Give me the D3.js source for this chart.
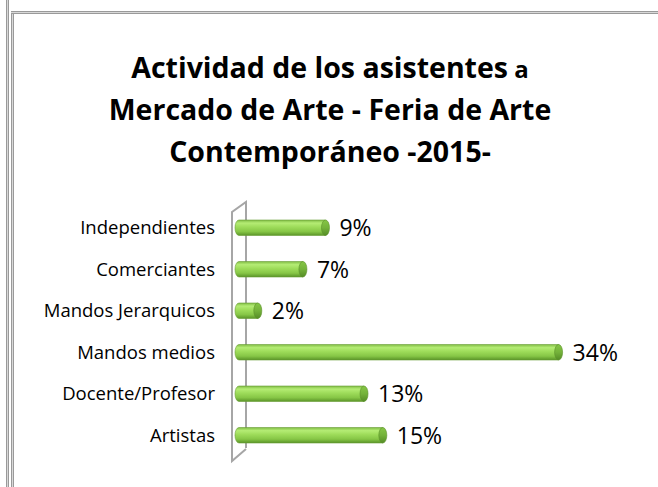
<!DOCTYPE html>
<html><head><meta charset="utf-8">
<script src="https://cdn.jsdelivr.net/npm/d3@7"></script>
<style>html,body{margin:0;padding:0;background:#fff;}</style>
</head><body>
<svg id="chart" width="658" height="487"></svg>
<script>
const categories = ["Independientes","Comerciantes","Mandos Jerarquicos","Mandos medios","Docente/Profesor","Artistas"];
const values = [9.2, 6.8, 2.0, 34.0, 13.3, 15.3];
const valueLabels = ["9%","7%","2%","34%","13%","15%"];
const titleLines = [["Actividad de los asistentes", " a"], ["Mercado de Arte - Feria de Arte"], ["Contemporáneo -2015-"]];

const svg = d3.select("#chart");
const W = 658, H = 487;
svg.append("rect").attr("width", W).attr("height", H).attr("fill", "#fff");

// frame lines (double-line look)
function dbl(x1,y1,x2,y2){
  svg.append("line").attr("x1",x1).attr("y1",y1).attr("x2",x2).attr("y2",y2).attr("stroke","#9a9a9a").attr("stroke-width",3);
  svg.append("line").attr("x1",x1).attr("y1",y1).attr("x2",x2).attr("y2",y2).attr("stroke","#d8d8d8").attr("stroke-width",1);
}
dbl(7.5,0,7.5,H);
dbl(12.5,11,12.5,H);
dbl(11,12.5,W,12.5);

// title
const font = "'Open Sans', 'Liberation Sans', sans-serif";
const title = svg.append("text").attr("text-anchor","middle").attr("font-family",font).attr("font-weight","bold").attr("fill","#000");
const baselines = [78, 120, 162];
titleLines.forEach((parts,i)=>{
  const t = title.append("tspan").attr("x", 330).attr("y", baselines[i]);
  parts.forEach((p,j)=>{
    t.append("tspan").attr("font-size", j===0 ? 28.5 : 24).text(p);
  });
});

// scales
const x = d3.scaleLinear().domain([0, 40]).range([239, 615]);
const y = d3.scaleBand().domain(categories).range([207, 456]).padding(0);
const barH = 15.5, rx = 4;

// wall
const wall = svg.append("g").attr("stroke","#a6a6a6").attr("stroke-width",2).attr("fill","none");
wall.append("path").attr("d", `M246,448 L246,202 L232,212 L232,461 L246,449`);

// gradient
const defs = svg.append("defs");
const g = defs.append("linearGradient").attr("id","cyl").attr("x1",0).attr("y1",0).attr("x2",0).attr("y2",1);
[[0,"#80bc44"],[0.2,"#b4ec74"],[0.45,"#9edc5a"],[0.75,"#86c646"],[1,"#5a9428"]].forEach(s=>g.append("stop").attr("offset",s[0]).attr("stop-color",s[1]));
const gc = defs.append("linearGradient").attr("id","cap").attr("x1",0).attr("y1",0).attr("x2",0).attr("y2",1);
[[0,"#86c646"],[0.5,"#74b23a"],[1,"#558c26"]].forEach(s=>gc.append("stop").attr("offset",s[0]).attr("stop-color",s[1]));

const bars = svg.append("g").selectAll("g").data(categories).join("g");
bars.each(function(c,i){
  const gg = d3.select(this);
  const cy = y(c) + y.bandwidth()/2;
  const x0 = x(0), x1 = x(values[i]);
  gg.append("path")
    .attr("d", `M${x0},${cy-barH/2} L${x1},${cy-barH/2} L${x1},${cy+barH/2} L${x0},${cy+barH/2} A${rx},${barH/2} 0 0 1 ${x0},${cy-barH/2} Z`)
    .attr("fill","url(#cyl)").attr("stroke","#6a9e36").attr("stroke-width",0.6);
  gg.append("ellipse").attr("cx",x1).attr("cy",cy).attr("rx",rx).attr("ry",barH/2)
    .attr("fill","url(#cap)").attr("stroke","#5a902a").attr("stroke-width",0.6);
  gg.append("text").attr("x", x1 + rx + 10).attr("y", cy).attr("dy","0.36em")
    .attr("font-family",font).attr("font-size",23).attr("fill","#000").text(valueLabels[i]);
});

// category labels
svg.append("g").selectAll("text").data(categories).join("text")
  .attr("x", 215).attr("y", d => y(d) + y.bandwidth()/2).attr("dy","0.35em")
  .attr("text-anchor","end").attr("font-family",font).attr("font-size",18.5).attr("fill","#000")
  .text(d=>d);
</script>
</body></html>
